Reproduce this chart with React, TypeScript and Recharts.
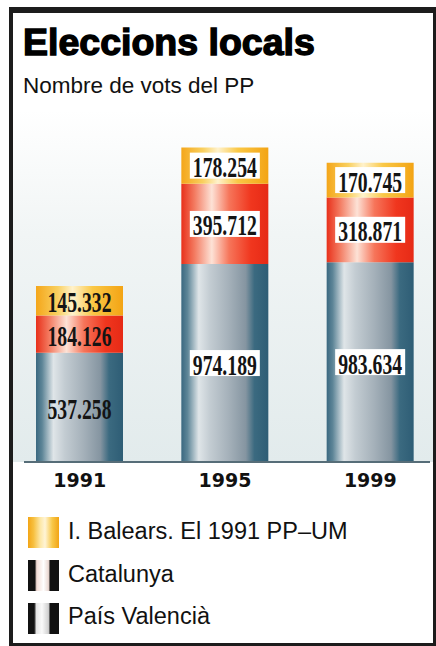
import React from 'react';
import { BarChart, Bar, XAxis, YAxis, LabelList } from 'recharts';

const years = ['1991', '1995', '1999'];
const paisValencia = [537258, 974189, 983634];
const catalunya = [184126, 395712, 318871];
const balears = [145332, 178254, 170745];
const seriesNames = ['I. Balears. El 1991 PP–UM', 'Catalunya', 'País Valencià'];
const title = 'Eleccions locals';
const subtitle = 'Nombre de vots del PP';

const data = years.map((y, i) => ({
  year: y,
  pv: paisValencia[i],
  cat: catalunya[i],
  bal: balears[i],
}));

const fmt = (v: number) => String(v).replace(/\B(?=(\d{3})+(?!\d))/g, '.');

const ValueLabel = (props: any) => {
  const { x, y, width, height, value, index } = props;
  const cx = x + width / 2;
  const cy = y + height / 2;
  const boxed = index > 0;
  return (
    <g>
      {boxed && <rect x={cx - 35} y={cy - 13} width={70} height={26} fill="#ffffff" />}
      <text
        x={cx}
        y={cy + 1}
        textAnchor="middle"
        dominantBaseline="central"
        fontFamily="'Liberation Serif', 'Times New Roman', serif"
        fontWeight={700}
        fontSize={30}
        textLength={64}
        lengthAdjust="spacingAndGlyphs"
        fill="#141414"
      >
        {fmt(value)}
      </text>
    </g>
  );
};

const YearTick = (props: any) => {
  const { x, y, payload } = props;
  return (
    <text
      x={x}
      y={y + 25}
      textAnchor="middle"
      fontFamily="'DejaVu Sans', sans-serif"
      fontWeight={700}
      fontSize={19}
      fill="#111"
    >
      {payload.value}
    </text>
  );
};

const legendIcons = [
  'linear-gradient(90deg, #f3a516 0%, #f7c040 18%, #fde8a8 40%, #fff4d6 55%, #f8c848 78%, #f2a414 100%)',
  'linear-gradient(90deg, #111 0%, #111 22%, #f3ddd6 28%, #fff 50%, #ead8d2 66%, #111 72%, #111 100%)',
  'linear-gradient(90deg, #111 0%, #111 20%, #e4e4e4 27%, #fafafa 45%, #cfcfcf 66%, #111 72%, #111 100%)',
];

export default function App() {
  return (
    <div
      style={{
        position: 'absolute',
        left: 0,
        top: 0,
        width: 436,
        height: 646,
        overflow: 'hidden',
        background: '#ffffff',
        fontFamily: "'Liberation Sans', Arial, sans-serif",
      }}
    >
      <div
        style={{
          position: 'absolute',
          left: 13,
          top: 110,
          width: 420,
          height: 352,
          background: 'linear-gradient(180deg, #ffffff 0%, #f1f5f5 35%, #e2ebec 100%)',
        }}
      />
      <div style={{ position: 'absolute', left: 7, top: 0 }}>
        <BarChart
          width={436}
          height={500}
          data={data}
          margin={{ top: 137, right: 0, bottom: 0, left: 0 }}
          barSize={87}
        >
          <defs>
            <linearGradient id="gBlue" x1="0" y1="0" x2="1" y2="0">
              <stop offset="0%" stopColor="#3a6880" />
              <stop offset="7%" stopColor="#5d8597" />
              <stop offset="20%" stopColor="#dfe5e8" />
              <stop offset="33%" stopColor="#c3ccd2" />
              <stop offset="55%" stopColor="#a4b0b9" />
              <stop offset="74%" stopColor="#8595a1" />
              <stop offset="84%" stopColor="#3b6a80" />
              <stop offset="100%" stopColor="#2e5d75" />
            </linearGradient>
            <linearGradient id="gRed" x1="0" y1="0" x2="1" y2="0">
              <stop offset="0%" stopColor="#e8301a" />
              <stop offset="15%" stopColor="#f37a60" />
              <stop offset="35%" stopColor="#fde2d6" />
              <stop offset="55%" stopColor="#f6755a" />
              <stop offset="80%" stopColor="#f0361e" />
              <stop offset="100%" stopColor="#e62a16" />
            </linearGradient>
            <linearGradient id="gYellow" x1="0" y1="0" x2="1" y2="0">
              <stop offset="0%" stopColor="#f4a61a" />
              <stop offset="25%" stopColor="#f9d060" />
              <stop offset="42%" stopColor="#fff2cc" />
              <stop offset="65%" stopColor="#fac846" />
              <stop offset="100%" stopColor="#f3a414" />
            </linearGradient>
          </defs>
          <XAxis
            dataKey="year"
            axisLine={false}
            tickLine={false}
            tickSize={0}
            tickMargin={0}
            height={38}
            tick={<YearTick />}
            interval={0}
          />
          <YAxis hide domain={[0, 1600000]} />
          <Bar dataKey="pv" name={seriesNames[2]} stackId="a" fill="url(#gBlue)" isAnimationActive={false}>
            <LabelList dataKey="pv" content={<ValueLabel />} />
          </Bar>
          <Bar dataKey="cat" name={seriesNames[1]} stackId="a" fill="url(#gRed)" isAnimationActive={false}>
            <LabelList dataKey="cat" content={<ValueLabel />} />
          </Bar>
          <Bar dataKey="bal" name={seriesNames[0]} stackId="a" fill="url(#gYellow)" isAnimationActive={false}>
            <LabelList dataKey="bal" content={<ValueLabel />} />
          </Bar>
        </BarChart>
      </div>
      <div
        style={{
          position: 'absolute',
          left: 24,
          top: 461,
          width: 406,
          height: 2,
          background: '#566d78',
        }}
      />
      <div
        style={{
          position: 'absolute',
          left: 23,
          top: 24,
          fontSize: 37.5,
          lineHeight: '37px',
          fontWeight: 700,
          color: '#000',
          WebkitTextStroke: '1.4px #000',
          whiteSpace: 'nowrap',
        }}
      >
        {title}
      </div>
      <div
        style={{
          position: 'absolute',
          left: 23,
          top: 75,
          fontSize: 22.5,
          lineHeight: '22.5px',
          color: '#111',
          whiteSpace: 'nowrap',
        }}
      >
        {subtitle}
      </div>
      {seriesNames.map((name, i) => (
        <div key={name}>
          <div
            style={{
              position: 'absolute',
              left: 28,
              top: 517 + i * 43,
              width: 31,
              height: 31,
              background: legendIcons[i],
            }}
          />
          <div
            style={{
              position: 'absolute',
              left: 68,
              top: 520 + i * 42.5,
              fontSize: 23.5,
              lineHeight: '23.5px',
              color: '#111',
              whiteSpace: 'nowrap',
            }}
          >
            {name}
          </div>
        </div>
      ))}
      <div
        style={{
          position: 'absolute',
          left: 9,
          top: 7,
          width: 427,
          height: 639,
          boxSizing: 'border-box',
          borderTop: '6px solid #1c1c1c',
          borderLeft: '4px solid #1c1c1c',
          borderRight: '3px solid #1c1c1c',
          borderBottom: '3px solid #1c1c1c',
          pointerEvents: 'none',
        }}
      />
    </div>
  );
}
